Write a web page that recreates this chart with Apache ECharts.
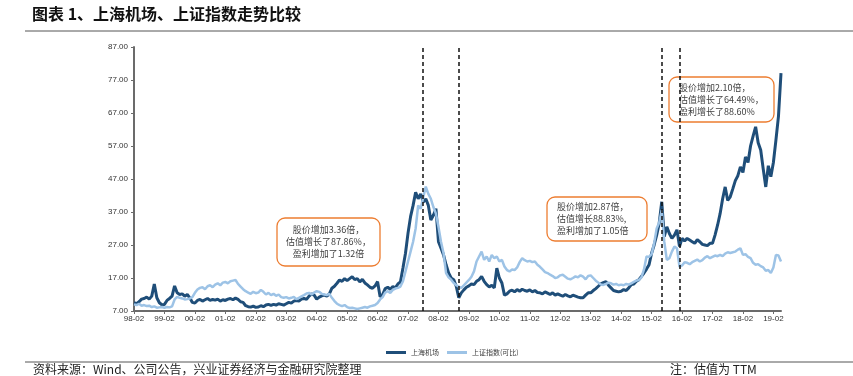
<!DOCTYPE html>
<html>
<head>
<meta charset="utf-8">
<script src="https://cdn.jsdelivr.net/npm/echarts@6/dist/echarts.min.js"></script>
<style>
  html, body { margin: 0; padding: 0; background: #fff; }
  #chart { width: 853px; height: 376px; }
</style>
</head>
<body>
<div id="chart"></div>
<script>
// monthly, starting 1998-02
const START_YEAR = 1998;
const START_MONTH = 2;

// 上海机场 (one row per year, Feb..Jan)
const airport = [
  9.5, 9.2, 9.8, 10.6, 10.8, 11.2, 10.6, 11.5, 15.2, 11.0, 9.5, 8.9,
  9.0, 10.2, 10.8, 11.5, 14.6, 12.5, 12.0, 12.2, 11.5, 12.0, 11.0, 9.6,
  9.4, 10.2, 10.5, 10.0, 10.4, 10.8, 10.2, 10.5, 10.3, 10.6, 10.0, 10.4,
  10.2, 10.6, 10.8, 10.4, 10.9, 10.5, 9.8, 9.6, 8.6, 8.3, 8.2, 8.5,
  8.1, 8.2, 8.6, 8.3, 8.8, 9.0, 8.7, 9.0, 8.8, 9.2, 9.0, 8.8,
  9.2, 9.6, 9.4, 10.0, 10.2, 10.0, 10.6, 10.8, 10.5, 11.5, 12.2, 11.8,
  10.6, 11.2, 11.6, 11.8, 11.5, 12.2, 13.9, 14.5, 15.4, 16.4, 16.0, 16.8,
  16.2, 16.8, 17.4, 16.5, 16.8, 15.8, 16.6, 15.5, 14.9, 14.2, 13.9, 14.6,
  15.9, 11.3, 12.0, 13.8, 14.2, 13.6, 14.4, 14.0, 15.2, 15.8, 20.0, 24.5,
  30.6, 35.6, 39.0, 43.0, 41.0, 42.5, 40.0, 41.0, 39.0, 34.6, 36.0, 38.0,
  28.0, 26.0, 24.0, 21.0, 18.5, 17.0, 16.5, 14.5, 11.0, 12.5, 13.4, 14.2,
  14.6, 15.2, 15.0, 16.0, 16.5, 17.5, 16.0, 15.0, 14.3, 14.8, 14.0, 20.0,
  17.0, 15.5, 11.8, 12.2, 13.0, 13.3, 12.8, 13.5, 13.0, 13.6, 13.2, 13.0,
  13.4, 12.8, 13.2, 12.6, 12.5, 12.2, 12.8, 12.4, 12.0, 12.5, 11.8, 12.2,
  11.8, 11.5, 12.0, 11.6, 11.3, 11.8, 11.5, 11.2, 11.0, 11.0, 11.8, 12.5,
  12.5, 13.2, 13.8, 14.5, 15.2, 15.6, 15.9, 14.8, 14.0, 13.2, 13.0, 12.8,
  13.0, 13.5, 13.2, 14.0, 15.0, 15.2, 16.0, 16.5, 17.5, 18.5, 19.7, 21.0,
  24.5, 27.0, 30.0, 33.6, 40.1, 29.5, 32.5, 30.5, 29.0, 30.0, 31.6, 26.5,
  29.0, 28.2, 29.0, 28.5, 28.0, 27.5, 28.6, 28.0, 27.2, 27.0, 26.8, 27.5,
  27.5, 30.0, 33.0, 36.5, 41.0, 44.6, 40.5, 41.6, 44.0, 46.5, 48.0, 50.7,
  49.0, 53.7, 52.0, 57.0, 60.0, 62.8, 58.0, 55.8, 50.0, 44.6, 51.0, 47.7,
  52.0, 58.8, 66.0, 79.1
];

// 上证指数(可比)
const sseIndex = [
  9.0, 8.8, 9.2, 8.6, 8.8, 8.5, 8.6, 8.2, 8.4, 8.0, 8.1, 8.2,
  8.0, 8.2, 8.1, 8.4, 10.5, 11.3, 11.0, 10.8, 10.5, 10.6, 10.8, 11.2,
  12.5, 13.5, 14.0, 14.2, 13.6, 14.5, 14.8, 14.2, 15.0, 15.4, 14.8, 15.6,
  15.8, 15.4, 16.0, 16.2, 16.4, 15.2, 14.4, 13.6, 13.0, 12.6, 12.2, 12.8,
  12.4, 12.6, 13.4, 12.8, 12.0, 12.5, 11.8, 12.2, 11.6, 12.0, 11.2, 11.0,
  11.2, 10.8, 11.0, 11.3, 10.6, 11.0, 11.4, 11.8, 12.3, 12.5, 12.0, 12.6,
  13.0, 12.8, 12.2, 12.0, 11.8, 12.2, 11.0, 10.0, 9.2, 8.8, 8.5, 8.8,
  8.2, 7.9, 8.0, 7.8, 7.6, 7.8, 8.0, 8.2, 8.0, 8.4, 8.6, 8.8,
  9.4, 10.5, 11.2, 12.6, 13.0, 12.5, 13.4, 13.8, 14.0, 14.4, 16.0, 19.0,
  22.0, 25.0, 28.0, 32.0, 39.0, 38.0, 41.5, 44.7, 42.5, 41.0, 38.5, 36.5,
  32.5, 28.0, 24.5, 18.5, 17.2, 16.5, 15.5, 14.8, 14.4, 14.0, 14.8, 15.6,
  16.4, 17.4, 19.0, 22.0, 23.5, 25.0, 22.5, 23.5, 22.0, 24.0, 23.0, 23.5,
  22.0, 22.5, 20.5, 19.4, 19.0, 19.6, 19.4, 20.2, 21.8, 23.0, 22.4, 22.0,
  22.2, 21.8, 22.0, 21.0, 20.4, 19.6, 18.8, 18.5, 18.0, 17.6, 17.0, 17.2,
  17.8, 18.0, 17.4, 16.8, 16.6, 17.0, 17.5, 17.2, 17.8, 17.4, 16.6, 17.6,
  17.8, 17.0, 16.2, 15.6, 15.0, 14.9, 15.2, 15.6, 15.4, 15.0, 15.2, 14.8,
  15.0, 14.8, 15.2, 15.0, 15.4, 15.8, 16.2, 16.4, 17.2, 19.6, 23.5, 23.4,
  24.2, 27.5, 32.0, 33.8, 37.6, 28.0, 22.5, 23.0, 25.0, 26.5, 26.0, 20.4,
  20.8, 21.8, 21.6, 21.2, 21.8, 22.2, 22.6, 22.0, 22.4, 23.2, 23.6, 23.0,
  23.4, 23.8, 23.6, 24.0, 23.6, 24.4, 24.8, 24.6, 24.8, 25.0, 25.6, 26.0,
  24.0, 24.2, 23.4, 23.0, 21.6, 21.0, 21.2, 20.6, 20.2, 19.2, 19.4, 18.5,
  20.2, 24.0, 23.8, 22.0
];

// dashed marker months
const markMonths = ["07-08", "08-10", "15-06", "16-01"];

const notes = [
  ["股价增加3.36倍，", "估值增长了87.86%，", "盈利增加了1.32倍"],
  ["股价增加2.87倍，", "估值增长88.83%,", "盈利增加了1.05倍"],
  ["股价增加2.10倍，", "估值增长了64.49%，", "盈利增长了88.60%"]
];

const pad = (n) => (n < 10 ? "0" + n : "" + n);
const months = airport.map((_, i) => {
  const m = START_MONTH - 1 + i;
  const y = START_YEAR + Math.floor(m / 12);
  return pad(y % 100) + "-" + pad((m % 12) + 1);
});

const CJK = '"Noto Sans CJK SC", sans-serif';
const LATIN = '"Liberation Sans", Arial, sans-serif';

function noteBox(x, y, w, h, lines, align) {
  const tx = align === "center" ? x + w / 2 : x + 10;
  return {
    type: "group",
    children: [
      {
        type: "rect",
        shape: { x: x, y: y, width: w, height: h, r: 8 },
        style: { fill: "#fff", stroke: "#ED7D31", lineWidth: 1.3 }
      },
      {
        type: "text",
        style: {
          x: tx,
          y: y + h / 2,
          text: lines.join("\n"),
          fill: "#404040",
          font: "9px " + CJK,
          lineHeight: 12,
          align: align,
          verticalAlign: "middle"
        }
      }
    ]
  };
}

const chart = echarts.init(document.getElementById("chart"));
chart.setOption({
  animation: false,
  grid: { left: 134, right: 72, top: 47, bottom: 65 },
  legend: {
    left: 381,
    top: 344,
    itemWidth: 20,
    itemHeight: 3,
    itemGap: 8,
    icon: "rect",
    textStyle: { fontSize: 7, color: "#404040", fontFamily: CJK },
    data: ["上海机场", "上证指数(可比)"]
  },
  xAxis: {
    type: "category",
    data: months,
    boundaryGap: false,
    axisLine: { lineStyle: { color: "#6b6b6b", width: 2 } },
    axisTick: { interval: 11, length: 3, lineStyle: { color: "#6b6b6b" } },
    axisLabel: {
      interval: 11,
      fontSize: 8,
      color: "#333",
      fontFamily: LATIN,
      margin: 4
    },
    splitLine: { show: false }
  },
  yAxis: {
    type: "value",
    min: 7,
    max: 87,
    interval: 10,
    axisLine: { show: true, lineStyle: { color: "#6b6b6b", width: 2 } },
    axisTick: { show: true, length: 3, lineStyle: { color: "#6b6b6b" } },
    axisLabel: {
      fontSize: 8,
      color: "#333",
      fontFamily: LATIN,
      margin: 6,
      formatter: (v) => v.toFixed(2)
    },
    splitLine: { show: false }
  },
  series: [
    {
      name: "上海机场",
      type: "line",
      data: airport,
      showSymbol: false,
      symbol: "none",
      color: "#1F4E79",
      lineStyle: { width: 3, color: "#1F4E79" },
      markLine: {
        silent: true,
        symbol: "none",
        label: { show: false },
        lineStyle: { color: "#111", width: 1.5, type: [4, 3] },
        data: markMonths.map((m) => ({ xAxis: m }))
      }
    },
    {
      name: "上证指数(可比)",
      type: "line",
      data: sseIndex,
      showSymbol: false,
      symbol: "none",
      color: "#9DC3E6",
      lineStyle: { width: 2.5, color: "#9DC3E6" }
    }
  ],
  graphic: [
    {
      type: "text",
      left: 32,
      top: 6,
      style: {
        text: "图表 1、上海机场、上证指数走势比较",
        font: "bold 16px " + CJK,
        fill: "#111"
      }
    },
    {
      type: "line",
      shape: { x1: 25, y1: 31, x2: 853, y2: 31 },
      style: { stroke: "#555", lineWidth: 1 }
    },
    {
      type: "line",
      shape: { x1: 25, y1: 362, x2: 853, y2: 362 },
      style: { stroke: "#555", lineWidth: 1 }
    },
    {
      type: "text",
      left: 33,
      top: 363,
      style: {
        text: "资料来源：Wind、公司公告，兴业证券经济与金融研究院整理",
        font: "12px " + CJK,
        fill: "#222"
      }
    },
    {
      type: "text",
      left: 670,
      top: 363,
      style: { text: "注：估值为 TTM", font: "12px " + CJK, fill: "#222" }
    },
    noteBox(277, 218, 103, 48, notes[0], "center"),
    noteBox(547, 197, 100, 44, notes[1], "left"),
    noteBox(669, 77, 105, 45, notes[2], "left")
  ]
});
</script>
</body>
</html>
